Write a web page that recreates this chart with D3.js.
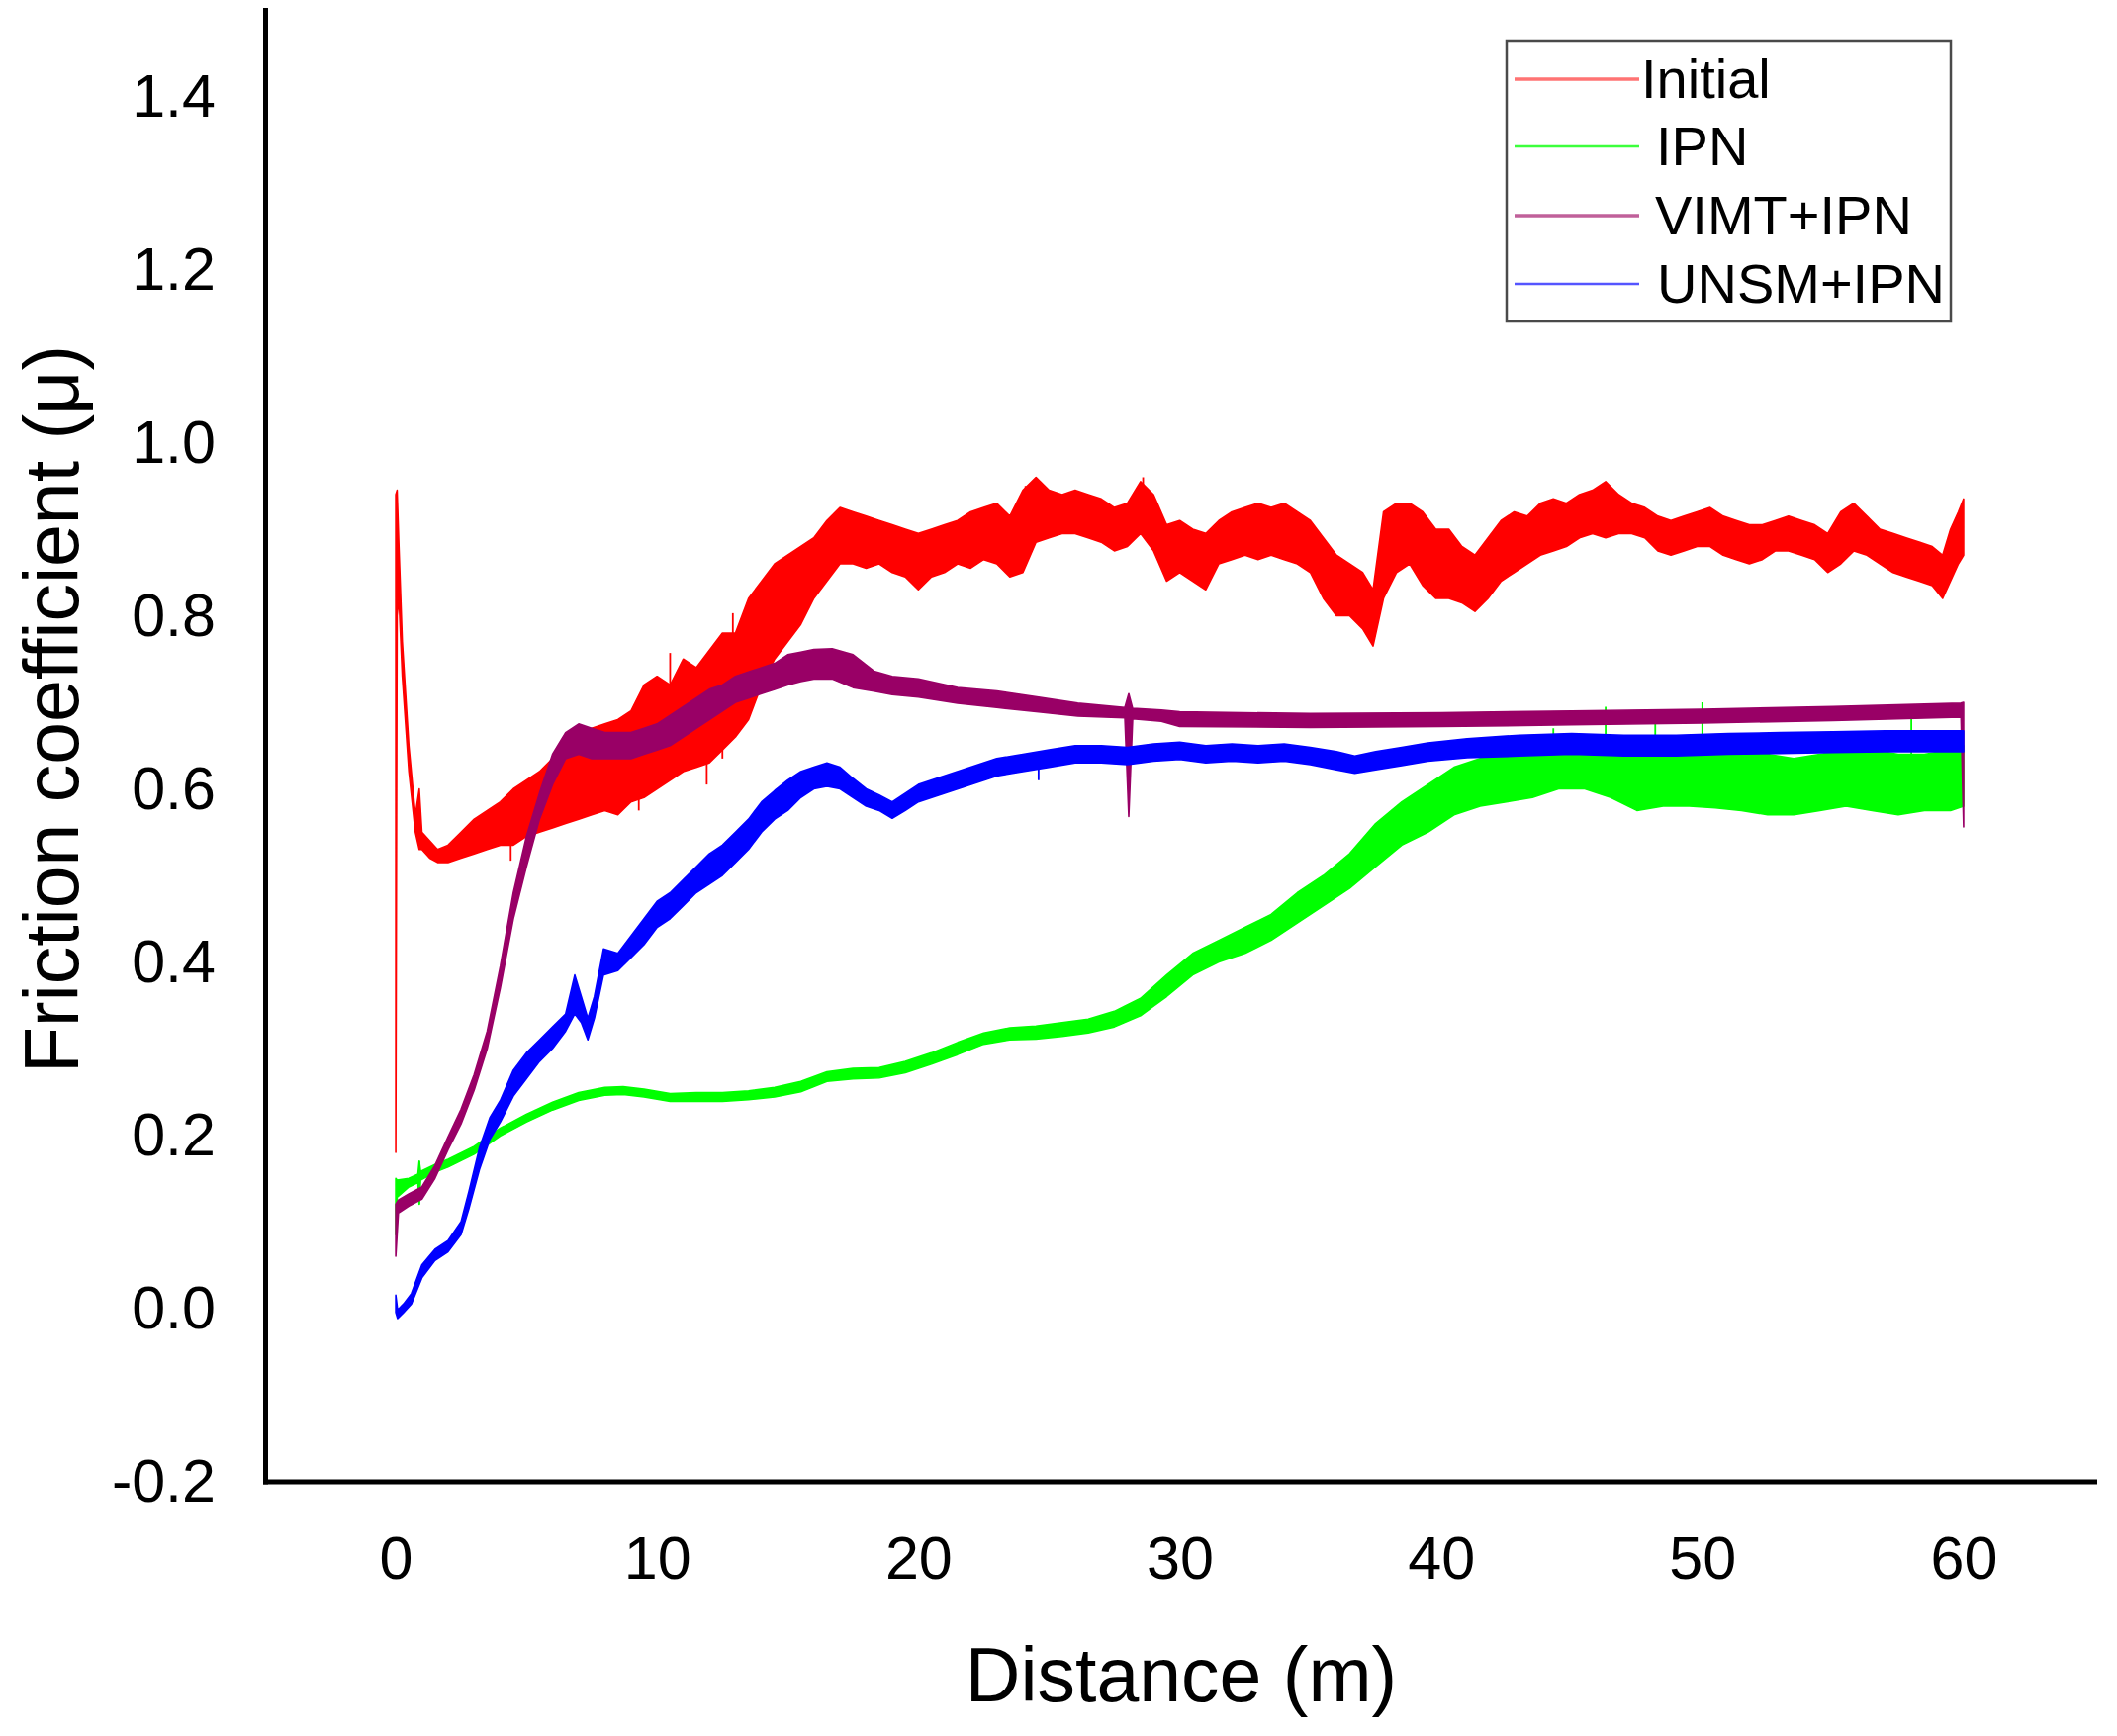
<!DOCTYPE html>
<html>
<head>
<meta charset="utf-8">
<script src="https://cdn.jsdelivr.net/npm/d3@7"></script>
<style>
  html, body { margin: 0; padding: 0; background: #ffffff; }
  svg { display: block; }
  text { font-family: "Liberation Sans", Arial, sans-serif; fill: #000; }
</style>
</head>
<body>
<svg id="chart" width="2140" height="1755"></svg>
<script>
// ---- Data: [distance m, lower envelope, upper envelope] ----
const seriesNames = ["Initial", "IPN", "VIMT+IPN", "UNSM+IPN"];
const seriesColors = ["#ff0000", "#00ff00", "#990066", "#0000ff"];
const legendColors = ["#ff7373", "#3cff3c", "#c0609a", "#5555ff"];

const initialBand = [
  [0.0,0.18,0.94],[0.05,0.80,0.945],[0.12,0.82,0.88],[0.25,0.73,0.77],[0.5,0.62,0.65],
  [0.75,0.55,0.57],[0.9,0.53,0.60],[1.0,0.53,0.55],[1.3,0.52,0.54],[1.6,0.515,0.53],
  [2.0,0.515,0.535],[2.5,0.52,0.55],[3.0,0.525,0.565],[3.5,0.53,0.575],[4.0,0.535,0.585],
  [4.5,0.535,0.60],[5.0,0.545,0.61],[5.5,0.55,0.62],[6.0,0.555,0.635],[6.5,0.56,0.645],
  [7.0,0.565,0.66],[7.5,0.57,0.67],[8.0,0.575,0.675],[8.5,0.57,0.68],[9.0,0.585,0.69],
  [9.5,0.59,0.72],[10.0,0.60,0.73],[10.5,0.61,0.72],[11.0,0.62,0.75],[11.5,0.625,0.74],
  [12.0,0.63,0.76],[12.5,0.645,0.78],[13.0,0.66,0.78],[13.5,0.68,0.82],[14.0,0.72,0.84],
  [14.5,0.75,0.86],[15.0,0.77,0.87],[15.5,0.79,0.88],[16.0,0.82,0.89],[16.5,0.84,0.91],
  [17.0,0.86,0.925],[17.5,0.86,0.92],[18.0,0.855,0.915],[18.5,0.86,0.91],[19.0,0.85,0.905],
  [19.5,0.845,0.90],[20.0,0.83,0.895],[20.5,0.845,0.90],[21.0,0.85,0.905],[21.5,0.86,0.91],
  [22.0,0.855,0.92],[22.5,0.865,0.925],[23.0,0.86,0.93],[23.5,0.845,0.915],[24.0,0.85,0.945],
  [24.5,0.885,0.96],[25.0,0.89,0.945],[25.5,0.895,0.94],[26.0,0.895,0.945],[26.5,0.89,0.94],
  [27.0,0.885,0.935],[27.5,0.875,0.925],[28.0,0.88,0.93],[28.5,0.895,0.955],[29.0,0.875,0.94],
  [29.5,0.84,0.905],[30.0,0.85,0.91],[30.5,0.84,0.90],[31.0,0.83,0.895],[31.5,0.86,0.91],
  [32.0,0.865,0.92],[32.5,0.87,0.925],[33.0,0.865,0.93],[33.5,0.87,0.925],[34.0,0.865,0.93],
  [34.5,0.86,0.92],[35.0,0.85,0.91],[35.5,0.82,0.89],[36.0,0.80,0.87],[36.5,0.80,0.86],
  [37.0,0.785,0.85],[37.4,0.765,0.83],[37.8,0.82,0.92],[38.3,0.85,0.93],[38.8,0.86,0.93],
  [39.3,0.835,0.92],[39.8,0.82,0.90],[40.3,0.82,0.90],[40.8,0.815,0.88],[41.3,0.805,0.87],
  [41.8,0.82,0.89],[42.3,0.84,0.91],[42.8,0.85,0.92],[43.3,0.86,0.915],[43.8,0.87,0.93],
  [44.3,0.875,0.935],[44.8,0.88,0.93],[45.3,0.89,0.94],[45.8,0.895,0.945],[46.3,0.89,0.955],
  [46.8,0.895,0.94],[47.3,0.895,0.93],[47.8,0.89,0.925],[48.3,0.875,0.915],[48.8,0.87,0.91],
  [49.3,0.875,0.915],[49.8,0.88,0.92],[50.3,0.88,0.925],[50.8,0.87,0.915],[51.3,0.865,0.91],
  [51.8,0.86,0.905],[52.3,0.865,0.905],[52.8,0.875,0.91],[53.3,0.875,0.915],[53.8,0.87,0.91],
  [54.3,0.865,0.905],[54.8,0.85,0.895],[55.3,0.86,0.92],[55.8,0.875,0.93],[56.3,0.87,0.915],
  [56.8,0.86,0.90],[57.3,0.85,0.895],[57.8,0.845,0.89],[58.3,0.84,0.885],[58.8,0.835,0.88],
  [59.2,0.82,0.87],[59.5,0.84,0.90],[59.8,0.86,0.92],[60.0,0.87,0.935]
];

const ipnBand = [
  [0.0,0.085,0.15],[0.05,0.128,0.148],[0.5,0.14,0.15],[0.85,0.145,0.155],[0.9,0.12,0.17],
  [0.95,0.148,0.158],[1.5,0.157,0.166],[2.0,0.163,0.172],[3.0,0.178,0.187],[4.0,0.199,0.208],
  [5.0,0.215,0.224],[6.0,0.229,0.238],[7.0,0.24,0.249],[8.0,0.246,0.255],[8.7,0.247,0.256],
  [9.5,0.244,0.253],[10.5,0.239,0.248],[11.5,0.239,0.249],[12.5,0.239,0.249],[13.5,0.241,0.251],
  [14.5,0.244,0.255],[15.5,0.25,0.262],[16.5,0.262,0.273],[17.5,0.265,0.277],[18.5,0.266,0.278],
  [19.5,0.272,0.285],[20.5,0.282,0.295],[21.5,0.293,0.307],[22.5,0.305,0.318],[23.5,0.31,0.324],
  [24.5,0.311,0.326],[25.5,0.314,0.33],[26.5,0.318,0.334],[27.5,0.325,0.343],[28.5,0.338,0.358],
  [29.5,0.36,0.385],[30.5,0.385,0.41],[31.5,0.40,0.425],[32.5,0.41,0.44],[33.5,0.425,0.455],
  [34.5,0.445,0.48],[35.5,0.465,0.50],[36.5,0.485,0.525],[37.5,0.51,0.56],[38.5,0.535,0.585],
  [39.5,0.55,0.605],[40.5,0.57,0.625],[41.5,0.58,0.635],[42.5,0.585,0.64],[43.5,0.59,0.645],
  [44.5,0.60,0.65],[45.5,0.60,0.655],[46.5,0.59,0.65],[47.5,0.575,0.64],[48.5,0.58,0.645],
  [49.5,0.58,0.645],[50.5,0.578,0.645],[51.5,0.575,0.64],[52.5,0.57,0.64],[53.5,0.57,0.635],
  [54.5,0.575,0.64],[55.5,0.58,0.645],[56.5,0.575,0.645],[57.5,0.57,0.64],[58.5,0.575,0.64],
  [59.5,0.575,0.645],[60.0,0.58,0.65]
];

const vimtBand = [
  [0.0,0.06,0.12],[0.1,0.11,0.125],[0.5,0.118,0.132],[1.0,0.126,0.14],[1.5,0.15,0.165],
  [2.0,0.183,0.198],[2.5,0.213,0.23],[3.0,0.252,0.27],[3.5,0.30,0.32],[4.0,0.37,0.395],
  [4.5,0.45,0.48],[5.0,0.51,0.545],[5.5,0.565,0.595],[6.0,0.605,0.64],[6.5,0.635,0.665],
  [7.0,0.64,0.675],[7.5,0.635,0.67],[8.0,0.635,0.665],[8.5,0.635,0.665],[9.0,0.635,0.665],
  [9.5,0.64,0.67],[10.0,0.645,0.675],[10.5,0.65,0.685],[11.0,0.66,0.695],[11.5,0.67,0.705],
  [12.0,0.68,0.715],[12.5,0.69,0.72],[13.0,0.70,0.73],[13.5,0.705,0.735],[14.0,0.71,0.74],
  [14.5,0.715,0.745],[15.0,0.72,0.755],[15.5,0.724,0.758],[16.0,0.727,0.761],[16.7,0.727,0.762],
  [17.5,0.717,0.755],[18.3,0.713,0.736],[19.0,0.709,0.73],[20.0,0.706,0.727],[21.5,0.699,0.717],
  [23.0,0.694,0.713],[24.6,0.689,0.706],[26.1,0.684,0.699],[27.9,0.682,0.694],[28.05,0.568,0.71],
  [28.2,0.681,0.693],[29.3,0.678,0.691],[30.0,0.672,0.689],[35.0,0.671,0.687],[40.0,0.672,0.688],
  [45.0,0.674,0.69],[50.0,0.676,0.692],[55.0,0.679,0.695],[59.9,0.683,0.699],[60.0,0.556,0.70]
];

const unsmBand = [
  [0.0,-0.005,0.015],[0.07,-0.012,-0.002],[0.3,-0.005,0.005],[0.6,0.005,0.017],[1.0,0.035,0.05],
  [1.5,0.055,0.068],[2.0,0.065,0.078],[2.5,0.085,0.10],[2.8,0.115,0.135],[3.2,0.16,0.185],
  [3.6,0.195,0.22],[4.0,0.215,0.24],[4.5,0.245,0.275],[5.0,0.265,0.295],[5.5,0.285,0.31],
  [6.0,0.30,0.325],[6.5,0.32,0.34],[6.85,0.34,0.385],[7.1,0.33,0.36],[7.35,0.31,0.335],
  [7.6,0.335,0.36],[7.95,0.385,0.415],[8.5,0.39,0.41],[9.0,0.405,0.43],[9.5,0.42,0.45],
  [10.0,0.44,0.47],[10.5,0.45,0.48],[11.0,0.465,0.495],[11.5,0.48,0.51],[12.0,0.49,0.525],
  [12.5,0.50,0.535],[13.0,0.515,0.55],[13.5,0.53,0.565],[14.0,0.55,0.585],[14.5,0.565,0.598],
  [15.0,0.575,0.61],[15.5,0.59,0.62],[16.0,0.60,0.625],[16.5,0.603,0.63],[17.0,0.60,0.625],
  [17.5,0.59,0.612],[18.0,0.58,0.60],[18.5,0.575,0.593],[19.0,0.566,0.585],[19.5,0.575,0.595],
  [20.0,0.585,0.605],[21.0,0.595,0.615],[22.0,0.605,0.625],[23.0,0.615,0.635],[24.0,0.62,0.64],
  [25.0,0.625,0.645],[26.0,0.63,0.65],[27.0,0.63,0.65],[28.0,0.628,0.648],[29.0,0.632,0.652],
  [30.0,0.634,0.654],[31.0,0.63,0.65],[32.0,0.632,0.652],[33.0,0.63,0.65],[34.0,0.632,0.652],
  [35.0,0.628,0.648],[36.0,0.622,0.643],[36.7,0.618,0.638],[37.5,0.622,0.643],[38.5,0.627,0.648],
  [39.5,0.632,0.653],[41.0,0.636,0.658],[43.0,0.638,0.662],[45.0,0.64,0.664],[47.0,0.638,0.662],
  [49.0,0.638,0.662],[51.0,0.64,0.664],[53.0,0.641,0.665],[55.0,0.642,0.666],[57.0,0.643,0.667],
  [60.0,0.643,0.667]
];

// isolated spikes: [distance, low, high]
const initialSpikes = [[4.4,0.517,0.58],[9.3,0.575,0.70],[10.5,0.62,0.757],[11.9,0.605,0.70],
  [12.5,0.635,0.78],[12.9,0.68,0.803],[13.5,0.70,0.807],[24.1,0.86,0.95],[28.6,0.90,0.96]];
const ipnSpikes = [[0.9,0.12,0.17],[44.3,0.63,0.67],[46.3,0.64,0.695],[48.2,0.63,0.675],
  [50.0,0.64,0.70],[58.0,0.64,0.697]];
const unsmSpikes = [[24.6,0.61,0.64]];

const xTicks = [0, 10, 20, 30, 40, 50, 60];
const yTicks = [-0.2, 0.0, 0.2, 0.4, 0.6, 0.8, 1.0, 1.2, 1.4];
const xTitle = "Distance (m)";
const yTitle = "Friction coefficient (\u03bc)";

// ---- Drawing ----
const svg = d3.select("#chart");
svg.append("rect").attr("width", 2140).attr("height", 1755).attr("fill", "#fff");

const x = d3.scaleLinear().domain([-5, 65]).range([268, 2117]);
const y = d3.scaleLinear().domain([-0.2, 1.5]).range([1497.5, 10]);

const bands = [initialBand, ipnBand, vimtBand, unsmBand];
const spikes = [initialSpikes, ipnSpikes, [], unsmSpikes];

const area = d3.area()
  .x(d => x(d[0]))
  .y0(d => y(d[1]))
  .y1(d => y(d[2]));

const plot = svg.append("g");
// drawing order: Initial, IPN, VIMT+IPN, UNSM+IPN (later on top)
bands.forEach((band, i) => {
  const g = plot.append("g");
  g.append("path")
    .datum(band)
    .attr("d", area)
    .attr("fill", seriesColors[i])
    .attr("stroke", seriesColors[i])
    .attr("stroke-width", 1.6)
    .attr("stroke-linejoin", "round");
  g.selectAll("line.spike")
    .data(spikes[i])
    .enter().append("line")
    .attr("class", "spike")
    .attr("x1", d => x(d[0])).attr("x2", d => x(d[0]))
    .attr("y1", d => y(d[1])).attr("y2", d => y(d[2]))
    .attr("stroke", seriesColors[i])
    .attr("stroke-width", 1.8);
});

// Axes
const xAxis = d3.axisBottom(x).tickValues(xTicks).tickSize(0).tickPadding(55)
  .tickFormat(d3.format("d"));
const yAxis = d3.axisLeft(y).tickValues(yTicks).tickSize(0).tickPadding(50)
  .tickFormat(d3.format(".1f"));

const gx = svg.append("g").attr("transform", `translate(0,${y(-0.2)})`).call(xAxis);
const gy = svg.append("g").attr("transform", `translate(${x(-5)},0)`).call(yAxis);

[gx, gy].forEach(g => {
  g.select(".domain").attr("stroke", "#000").attr("stroke-width", 5).attr("stroke-linecap", "square");
  g.selectAll("text")
    .attr("font-family", '"Liberation Sans", Arial, sans-serif')
    .attr("font-size", 61)
    .attr("fill", "#000");
});
gy.selectAll("text").text(d => d3.format(".1f")(d).replace("\u2212", "-"));

// Axis titles
svg.append("text")
  .attr("x", 1194).attr("y", 1720)
  .attr("text-anchor", "middle")
  .attr("font-size", 77)
  .text(xTitle);

svg.append("text")
  .attr("transform", "translate(79,717) rotate(-90)")
  .attr("text-anchor", "middle")
  .attr("font-size", 77)
  .text(yTitle);

// Legend
const legend = svg.append("g");
legend.append("rect")
  .attr("x", 1523).attr("y", 41).attr("width", 449).attr("height", 284)
  .attr("fill", "#fff").attr("stroke", "#4a4a4a").attr("stroke-width", 2.5);
const rowY = [80, 148, 218, 287];
const textX = [1659, 1674, 1673, 1675];
const lineW = [3.5, 2.5, 3.5, 2.5];
seriesNames.forEach((name, i) => {
  legend.append("line")
    .attr("x1", 1531).attr("x2", 1657)
    .attr("y1", rowY[i]).attr("y2", rowY[i])
    .attr("stroke", legendColors[i]).attr("stroke-width", lineW[i]);
  legend.append("text")
    .attr("x", textX[i]).attr("y", rowY[i] + 19)
    .attr("font-size", 56)
    .text(name);
});
</script>
</body>
</html>
